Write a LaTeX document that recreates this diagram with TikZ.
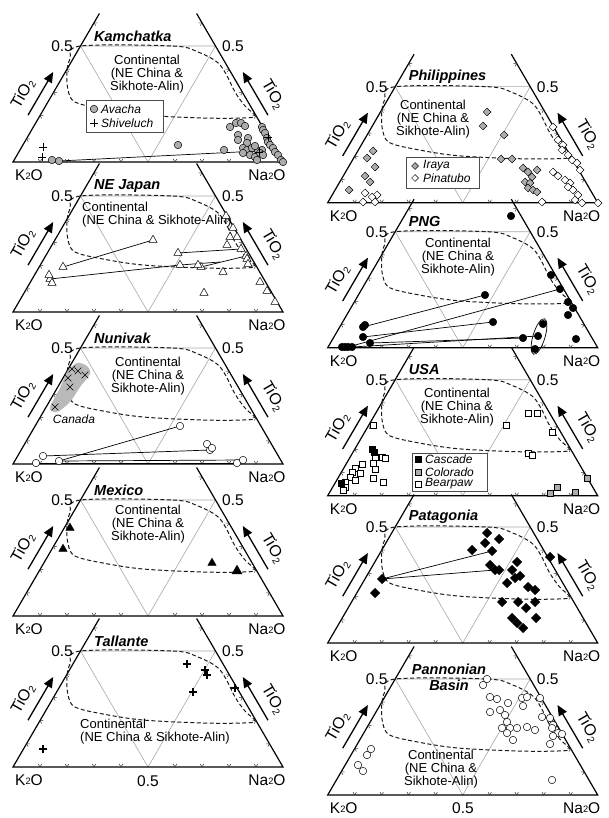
\documentclass[tikz,border=0pt]{standalone}
\usepackage{fontspec}
\setmainfont{Liberation Sans}
\usetikzlibrary{shapes.geometric,shapes.misc,arrows.meta}
\pgfdeclarelayer{bg}\pgfdeclarelayer{ties}
\pgfsetlayers{bg,ties,main}
\newcommand\sbk{\raisebox{0.1em}{\scalebox{0.6}{2}}}
\newcommand\sbt{\raisebox{-0.15em}{\scalebox{0.62}{2}}}
\newcounter{mkc}
\newcommand\mks[2]{\foreach \x/\y in {#2}{\stepcounter{mkc}\edef\mkname{m\arabic{mkc}}\node[#1] (\mkname) at (\x,\y) {};}}
\newcommand\mkn[3]{\node[#1] (#2) at (#3) {};}
\newcommand\tie[2]{\begin{pgfonlayer}{ties}\draw[tie] (#1.center) -- (#2.center);\end{pgfonlayer}}
\tikzset{
 side/.style={line width=1.2pt, black},
 grl/.style={line width=0.6pt, gray!70},
 tck/.style={line width=0.5pt, gray!40!black},
 contl/.style={line width=1pt, dash pattern=on 4pt off 2.5pt, black!90},
 arr/.style={line width=1.3pt, -{Triangle[length=10.5pt,width=9pt]}},
 lab/.style={font=\fontsize{15.5}{16}\selectfont, inner sep=0pt},
 tio/.style={font=\fontsize{16}{16}\selectfont, inner sep=0pt},
 ttl/.style={font=\fontsize{14.5}{16}\selectfont\bfseries\itshape, anchor=west, inner sep=0pt},
 cont/.style={font=\fontsize{13}{13}\selectfont, align=center, inner sep=0pt},
 legt/.style={font=\fontsize{12}{12}\selectfont\itshape, anchor=west, inner sep=0pt},
 legbox/.style={draw=black!70, fill=white, line width=0.6pt, inner sep=0pt},
 tie/.style={line width=0.7pt},
 mkb/.style={inner sep=0pt, line width=0.5pt, draw=black},
 circG/.style={mkb, circle, fill=gray!65, minimum size=7.5pt},
 circK/.style={mkb, circle, fill=black, minimum size=7.5pt},
 circW/.style={mkb, circle, fill=white, minimum size=7.5pt},
 triW/.style={mkb, regular polygon, regular polygon sides=3, fill=white, minimum size=9.5pt},
 triK/.style={mkb, regular polygon, regular polygon sides=3, fill=black, minimum size=9.5pt},
 diaG/.style={mkb, diamond, fill=gray!65, minimum size=8pt},
 diaW/.style={mkb, diamond, fill=white, minimum size=8pt},
 diaK/.style={mkb, diamond, fill=black, minimum size=9.5pt},
 sqK/.style={mkb, rectangle, fill=black, minimum size=6.5pt},
 sqG/.style={mkb, rectangle, fill=gray!65, minimum size=6.5pt},
 sqW/.style={mkb, rectangle, fill=white, minimum size=6.5pt},
 plusT/.style={inner sep=0pt, minimum size=8.5pt, path picture={\draw[line width=0.6pt] (path picture bounding box.north)--(path picture bounding box.south) (path picture bounding box.west)--(path picture bounding box.east);}},
 plusB/.style={inner sep=0pt, minimum size=8.5pt, path picture={\draw[line width=2pt] (path picture bounding box.north)--(path picture bounding box.south) (path picture bounding box.west)--(path picture bounding box.east);}},
 xT/.style={cross out, draw, line width=0.6pt, inner sep=0pt, minimum size=6pt},
}
\newcommand\panel[4]{%
\begin{pgfonlayer}{bg}
\begin{scope}[shift={(#1,#2)},yscale=-1]
 \draw[grl] (67.5,116) -- (202.5,116) -- (135,0) -- cycle;
 \draw[side] (86.4,148.5) -- (0,0) -- (270,0) -- (183.6,148.5);
 \foreach \i in {1,2,3,4,6,7,8,9}{\draw[tck] ({27*\i-1.7},2.9) -- ({27*\i},0) -- ({27*\i+1.7},2.9);}
 \foreach \t in {0.1,0.2,0.3,0.4,0.6}{%
   \draw[tck] ({135*\t+3.4},{232*\t}) -- ({135*\t},{232*\t}) -- ({135*\t+1.7},{232*\t-2.9});
   \draw[tck] ({270-135*\t-3.4},{232*\t}) -- ({270-135*\t},{232*\t}) -- ({270-135*\t-1.7},{232*\t-2.9});}
 \draw[contl] plot[smooth cycle, tension=0.55] coordinates {(67.5,116) (160,116) (185,110) (204,100) (213,88) (222,70) (232,56) (242,46) (230,44) (190,44) (130,47) (90,53) (62,60) (55,72) (54,90) (57,103)};
 \node[lab] (#3k) at (16,-13.5) {K\sbk O};
 \node[lab] (#3n) at (254,-13.5) {Na\sbk O};
 \node[lab, anchor=east] (#3l) at (60,116) {0.5};
 \node[lab, anchor=west] (#3r) at (209,116) {0.5};
 \node[tio, rotate=60] (#3tl) at (10,68) {TiO\sbt};
 \node[tio, rotate=-60] (#3tr) at (260,68) {TiO\sbt};
 \coordinate (#3a1) at (15,46.8); \coordinate (#3a2) at (40.2,90);
 \coordinate (#3b1) at (255,46.8); \coordinate (#3b2) at (229.8,90);
 \draw[arr] (#3a1) -- (#3a2); \draw[arr] (#3b1) -- (#3b2);
 \node[ttl] (#3t) at (81,126) {#4};
\end{scope}
\end{pgfonlayer}}
\begin{document}
\begin{tikzpicture}[x=1pt,y=-1pt]
\useasboundingbox (0,0) rectangle (609,818);
% ---------- left column ----------
\panel{13}{162}{KA}{Kamchatka}
\panel{13}{312}{NJ}{NE Japan}
\panel{13}{464}{NU}{Nunivak}
\panel{13}{616}{ME}{Mexico}
\panel{13}{767}{TA}{Tallante}
\node[lab] (TAh) at (148,781) {0.5};
% ---------- right column ----------
\panel{327.7}{202.7}{PH}{Philippines}
\panel{327.7}{347.7}{PN}{PNG}
\panel{327.7}{495.7}{US}{USA}
\panel{327.7}{643}{PA}{Patagonia}
\panel{327.7}{795}{PB}{}
\node[ttl, align=center, anchor=center] (PBt) at (449,677) {Pannonian\\Basin};
\node[lab] (PBh) at (463,808) {0.5};
% ---------- continental labels ----------
\node[cont] (KAc) at (147,74.5) {Continental\\(NE China \&\\Sikhote-Alin)};
\node[cont, align=left, anchor=west] (NJc) at (82,215) {Continental\\(NE China \& Sikhote-Alin)};
\node[cont] (NUc) at (148,376) {Continental\\(NE China \&\\Sikhote-Alin)};
\node[cont] (MEc) at (148,524) {Continental\\(NE China \&\\Sikhote-Alin)};
\node[cont, align=left, anchor=west] (TAc) at (80,732) {Continental\\(NE China \& Sikhote-Alin)};
\node[cont] (PHc) at (433,118.7) {Continental\\(NE China \&\\Sikhote-Alin)};
\node[cont] (PNc) at (458,257) {Continental\\(NE China \&\\Sikhote-Alin)};
\node[cont] (USc) at (457,407) {Continental\\(NE China \&\\Sikhote-Alin)};
\node[cont] (PBc) at (441,769) {Continental\\(NE China \&\\Sikhote-Alin)};
% ---------- Kamchatka ----------
\mkn{circG}{k1}{59,161} \mkn{circG}{k2}{258,151} \tie{k1}{k2}
\mks{circG}{230/127, 236/123, 241/123, 245/126, 238/135, 238/140, 248/138, 247/143, 243/148, 247/150, 252/148, 255/146, 262/150, 243/153, 250/155, 255/157, 260/153, 263/155, 257/160, 262/127, 263/130, 265/133, 267/138, 268/142, 270/145, 273/148, 275/152, 278/155, 281/160, 283/162, 178/145, 224/150, 52/160}
\mks{plusT}{43/147, 42/157, 268/137, 259/152}
\node[legbox, minimum width=77pt, minimum height=32pt] (KAleg) at (124.5,116) {};
\mkn{circG}{KAl1}{94,109} \node[legt] (KAl1t) at (101,109) {Avacha};
\mkn{plusT}{KAl2}{94,123} \node[legt] (KAl2t) at (101,123) {Shiveluch};
% ---------- NE Japan ----------
\mkn{triW}{j1}{63,267} \mkn{triW}{j2}{153,240} \mkn{triW}{j3}{50,279} \mkn{triW}{j4}{180,265}
\mkn{triW}{j5}{178,253} \mkn{triW}{j6}{241,249} \mkn{triW}{j7}{201,267} \mkn{triW}{j8}{246,256}
\coordinate (jc) at (220,262);
\tie{j1}{j2} \tie{j3}{j4} \tie{j5}{j6} \tie{j4}{jc} \tie{j7}{j8}
\mks{triW}{49/275, 52/283, 198/265, 223/272, 204/293, 226/216, 233/228, 230/237, 237/237, 227/245, 247/259, 248/264, 260/282, 267/291, 275/302}
% ---------- Nunivak ----------
\begin{pgfonlayer}{ties}
\fill[gray!55] plot[smooth cycle, tension=0.5] coordinates {(50,408) (60,388) (67,372) (77,363) (87,366) (90,374) (80,387) (70,402) (57,412)};
\end{pgfonlayer}
\mks{xT}{72/369, 78/371, 85/375, 68/378, 70/387, 55/407}
\node[legt, anchor=center] (NUcan) at (74,419) {Canada};
\mkn{circW}{u1}{59,461} \mkn{circW}{u2}{180,426} \mkn{circW}{u3}{43,456} \mkn{circW}{u4}{210,450}
\mkn{circW}{u5}{36,463} \mkn{circW}{u6}{237,463} \mkn{circW}{u7}{243,460}
\tie{u1}{u2} \tie{u3}{u4} \tie{u5}{u6} \tie{u1}{u7}
\mks{circW}{207/444, 212/448}
% ---------- Mexico ----------
\mks{triK}{70/528, 63/549, 212/563}
\node[triK, minimum size=11.5pt] (MEbig) at (237,571) {};
% ---------- Tallante ----------
\mks{plusB}{187/664, 205/670, 207/675, 193/692, 235/688, 43/749}
% ---------- Philippines ----------
\mks{diaG}{487/112, 483/126, 504/135, 501/159, 512/159, 523/168, 528/172, 537/170, 532/177, 525/182, 530/183, 528/188, 533/190, 537/192, 373/151, 367/158, 375/167, 365/176, 370/182, 349/190}
\mks{diaW}{377/195, 372/197, 365/193, 363/202, 375/202, 542/202, 553/127, 558/140, 563/145, 562/150, 568/155, 572/160, 577/163, 580/170, 553/172, 558/176, 565/180, 570/183, 568/187, 573/190, 578/195, 575/200, 582/203, 598/203}
\node[legbox, minimum width=73pt, minimum height=31pt] (PHleg) at (442.5,172.5) {};
\node[diaG, minimum size=7pt] (PHl1) at (415,166) {}; \node[legt] (PHl1t) at (423,166) {Iraya};
\node[diaW, minimum size=7pt] (PHl2) at (415,178) {}; \node[legt] (PHl2t) at (423,178) {Pinatubo};
% ---------- PNG ----------
\mkn{circK}{p1}{363,327} \mkn{circK}{p2}{485,295} \mkn{circK}{p3}{363,337} \mkn{circK}{p4}{493,322}
\mkn{circK}{p5}{348,347} \mkn{circK}{p6}{560,289} \mkn{circK}{p7}{370,343} \mkn{circK}{p8}{523,338}
\mkn{circK}{p9}{352,347} \mkn{circK}{p10}{538,336}
\tie{p1}{p2} \tie{p3}{p4} \tie{p5}{p6} \tie{p7}{p8} \tie{p9}{p10}
\mks{circK}{511/216, 551/275, 568/302, 573/308, 568/315, 576/339, 543/324, 535/349, 365/325, 342/347, 345/347}
\node[draw, ellipse, line width=0.7pt, minimum width=12pt, minimum height=37pt, rotate=-17] (PNell) at (539,336.5) {};
% ---------- USA ----------
\mks{sqW}{373/425, 506/425, 528/413, 537/413, 552/432, 528/453, 532/455, 375/457, 382/457, 385/458, 373/463, 362/464, 355/468, 352/472, 375/469, 360/473, 350/477, 355/480, 345/482, 373/478, 383/482, 345/487, 343/490}
\mks{sqK}{372/449, 374/452, 341/483}
\mks{sqG}{550/493, 557/487, 575/492, 587/478}
\node[legbox, minimum width=75pt, minimum height=38pt] (USleg) at (449.5,472) {};
\node[sqK] (USl1) at (418,459) {}; \node[legt] (USl1t) at (425,459) {Cascade};
\node[sqG] (USl2) at (418,472) {}; \node[legt] (USl2t) at (425,472) {Colorado};
\node[sqW] (USl3) at (418,484) {}; \node[legt] (USl3t) at (425,484) {Bearpaw};
% ---------- Patagonia ----------
\mkn{diaK}{t1}{382,579} \mkn{diaK}{t2}{492,551} \mkn{diaK}{t3}{495,570}
\tie{t1}{t2} \tie{t1}{t3}
\mks{diaK}{375/593, 487/533, 485/543, 499/539, 472/550, 490/565, 499/570, 550/557, 517/562, 512/570, 520/576, 507/583, 515/578, 528/587, 535/590, 502/602, 518/602, 526/608, 535/602, 512/618, 517/623, 523/628, 536/618}
% ---------- Pannonian Basin ----------
\mks{circW}{487/679, 483/685, 490/697, 497/699, 508/703, 490/712, 500/710, 522/698, 527/697, 523/706, 540/698, 505/715, 507/722, 502/728, 510/728, 517/728, 527/727, 507/733, 513/740, 535/730, 542/717, 550/718, 553/725, 552/728, 558/733, 562/734, 553/736, 550/744, 358/765, 367/755, 371/749, 363/771, 552/780}
\end{tikzpicture}
\end{document}
